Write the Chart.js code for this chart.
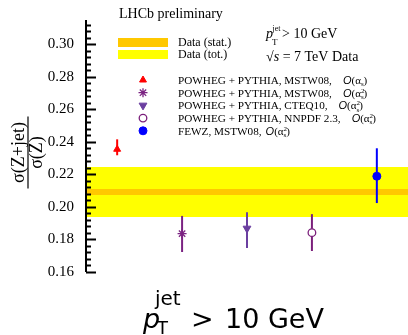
<!DOCTYPE html>
<html>
<head>
<meta charset="utf-8">
<script src="https://cdn.jsdelivr.net/npm/chart.js@4.4.0/dist/chart.umd.min.js"></script>
<style>
html, body { margin: 0; padding: 0; background: #fff; }
#wrap { width: 408px; height: 335px; }
</style>
</head>
<body>
<div id="wrap"><canvas id="chart" width="408" height="335"></canvas></div>
<script>
// y axis labels
const yTicks = [0.16, 0.18, 0.20, 0.22, 0.24, 0.26, 0.28, 0.30];

// measured ratio bands: [low, high]
const dataStat = [0.2074, 0.2110];
const dataTot = [0.1938, 0.2246];

// theory predictions
const theoryNames = [
    "POWHEG + PYTHIA, MSTW08,",
    "POWHEG + PYTHIA, MSTW08,",
    "POWHEG + PYTHIA, CTEQ10,",
    "POWHEG + PYTHIA, NNPDF 2.3,",
    "FEWZ, MSTW08,"
];
const theoryOrder = [1, 2, 2, 2, 2];
const theoryValues = [0.2355, 0.1836, 0.1868, 0.1842, 0.2189];
const theoryLow = [0.2318, 0.1723, 0.1747, 0.1729, 0.2024];
const theoryHigh = [0.2416, 0.1945, 0.1968, 0.1956, 0.2361];
const theoryColors = ["#ff0000", "#7b2382", "#6b3fa0", "#7b1f7b", "#0000ff"];

const serif = '"Liberation Serif", "Times New Roman", serif';
const xMin = -0.48, xMax = 4.48;

function bandLine(value, fill, color, order) {
    return {
        type: "line",
        data: [{x: xMin, y: value}, {x: xMax, y: value}],
        borderWidth: 0,
        pointRadius: 0,
        fill: fill,
        backgroundColor: color,
        order: order,
    };
}

const markerStyles = [
    {pointStyle: "triangle", radius: 4, rotation: 0, bg: theoryColors[0], borderWidth: 1},
    {pointStyle: "star", radius: 4.5, rotation: 0, bg: theoryColors[1], borderWidth: 1.3},
    {pointStyle: "triangle", radius: 4.5, rotation: 180, bg: theoryColors[2], borderWidth: 1},
    {pointStyle: "circle", radius: 3.8, rotation: 0, bg: "#ffffff", borderWidth: 1.3},
    {pointStyle: "circle", radius: 4, rotation: 0, bg: theoryColors[4], borderWidth: 1},
];

const theorySets = theoryValues.map((value, i) => ({
    type: "scatter",
    data: [{x: i, y: value}],
    pointStyle: markerStyles[i].pointStyle,
    pointRadius: markerStyles[i].radius,
    pointRotation: markerStyles[i].rotation,
    backgroundColor: markerStyles[i].bg,
    borderColor: theoryColors[i],
    borderWidth: markerStyles[i].borderWidth,
    errLow: theoryLow[i],
    errHigh: theoryHigh[i],
    order: 0,
}));

const errorBars = {
    id: "errorBars",
    beforeDatasetDraw(chart, args) {
        const ds = chart.data.datasets[args.index];
        if (ds.errLow === undefined) return;
        const y = chart.scales.y;
        const pt = args.meta.data[0];
        const {ctx} = chart;
        ctx.save();
        ctx.strokeStyle = ds.borderColor;
        ctx.lineWidth = 2;
        ctx.beginPath();
        ctx.moveTo(pt.x, y.getPixelForValue(ds.errLow));
        ctx.lineTo(pt.x, y.getPixelForValue(ds.errHigh));
        ctx.stroke();
        ctx.restore();
    }
};

// inward ticks + axis line, drawn on top of the bands
const axisTicks = {
    id: "axisTicks",
    afterDatasetsDraw(chart) {
        const {ctx, chartArea} = chart;
        const y = chart.scales.y;
        ctx.save();
        ctx.strokeStyle = "#000";
        ctx.lineWidth = 2;
        ctx.beginPath();
        ctx.moveTo(chartArea.left, chartArea.top);
        ctx.lineTo(chartArea.left, chartArea.bottom);
        for (let k = 0; y.min + k * 0.004 <= y.max + 1e-9; k++) {
            const py = Math.round(y.getPixelForValue(y.min + k * 0.004)) + 0.5;
            const len = k % 5 === 0 ? 10 : 5;
            ctx.moveTo(chartArea.left, py);
            ctx.lineTo(chartArea.left + len, py);
        }
        ctx.stroke();
        ctx.restore();
    }
};

// draws a row of text pieces, returns end x
function drawParts(ctx, x, y, parts) {
    parts.forEach(p => {
        ctx.font = p.font;
        ctx.fillText(p.t, x, y + (p.dy || 0));
        if (!p.stay) x += ctx.measureText(p.t).width;
    });
    return x;
}

function orderParts(n) {
    const parts = [
        {t: "O", font: 'italic 11px "Liberation Sans", sans-serif'},
        {t: "(\u03b1", font: "11px " + serif},
    ];
    if (n === 2) parts.push({t: "2", font: "7px " + serif, dy: -4, stay: true});
    parts.push({t: "s", font: "7px " + serif, dy: 2.5});
    parts.push({t: ")", font: "11px " + serif});
    return parts;
}

const annotations = {
    id: "annotations",
    afterDraw(chart) {
        const {ctx} = chart;
        ctx.save();
        ctx.fillStyle = "#000";
        ctx.textBaseline = "alphabetic";
        ctx.textAlign = "left";

        ctx.font = "14px " + serif;
        ctx.fillText("LHCb preliminary", 119, 18);

        // band legend
        ctx.fillStyle = "#ffc800";
        ctx.fillRect(118, 38, 50, 9);
        ctx.fillStyle = "#ffff00";
        ctx.fillRect(118, 50, 50, 9);
        ctx.fillStyle = "#000";
        ctx.font = "12px " + serif;
        ctx.fillText("Data (stat.)", 178, 46);
        ctx.fillText("Data (tot.)", 178, 58);

        // cut and energy
        drawParts(ctx, 266, 37.5, [{t: "p", font: "italic 14px " + serif}]);
        drawParts(ctx, 272.5, 30.5, [{t: "jet", font: "8px " + serif}]);
        drawParts(ctx, 272, 45, [{t: "T", font: "9px " + serif}]);
        drawParts(ctx, 282, 37.5, [{t: "> 10 GeV", font: "14px " + serif}]);
        drawParts(ctx, 266, 61, [
            {t: "\u221a", font: "14px " + serif},
            {t: "s", font: "italic 14px " + serif},
            {t: " = 7 TeV Data", font: "14px " + serif},
        ]);

        // theory legend
        const h = Chart.helpers;
        theoryNames.forEach((name, i) => {
            const my = 80 + i * 12.7;
            const ds = chart.data.datasets[4 + i];
            ctx.fillStyle = ds.backgroundColor;
            ctx.strokeStyle = ds.borderColor;
            ctx.lineWidth = ds.borderWidth;
            if (h && h.drawPoint) {
                h.drawPoint(ctx, {
                    pointStyle: ds.pointStyle,
                    radius: ds.pointRadius,
                    rotation: ds.pointRotation,
                    borderWidth: ds.borderWidth,
                }, 143, my);
            }
            ctx.fillStyle = "#000";
            ctx.font = "11.2px " + serif;
            ctx.fillText(name, 178, my + 3.8);
            const gap = i === 4 ? 4 : 11;
            drawParts(ctx, 178 + ctx.measureText(name).width + gap, my + 3.8, orderParts(theoryOrder[i]));
        });

        // y title as a fraction
        ctx.save();
        ctx.translate(28, 152.5);
        ctx.rotate(-Math.PI / 2);
        ctx.textAlign = "center";
        ctx.fillStyle = "#000";
        ctx.strokeStyle = "#000";
        ctx.font = "18px " + serif;
        ctx.fillText("\u03c3(Z+jet)", 0, -4);
        ctx.fillText("\u03c3(Z)", 0, 14);
        ctx.lineWidth = 1.2;
        ctx.beginPath();
        ctx.moveTo(-36, 0);
        ctx.lineTo(36, 0);
        ctx.stroke();
        ctx.restore();

        // x title
        ctx.textAlign = "left";
        ctx.fillStyle = "#000";
        ctx.font = 'italic 27px "DejaVu Sans", sans-serif';
        ctx.fillText("p", 143, 328);
        ctx.font = '20px "DejaVu Sans", sans-serif';
        ctx.fillText("jet", 155, 305);
        ctx.font = '18px "DejaVu Sans", sans-serif';
        ctx.fillText("T", 157, 334);
        ctx.font = '27px "DejaVu Sans", sans-serif';
        ctx.fillText(">", 191, 328);
        ctx.fillText("10 GeV", 225, 328);
        ctx.restore();
    }
};

new Chart(document.getElementById("chart"), {
    type: "scatter",
    data: {
        datasets: [
            bandLine(dataTot[1], "+1", "#ffff00", 20),
            bandLine(dataTot[0], false, "#ffff00", 20),
            bandLine(dataStat[1], "+1", "#ffc800", 10),
            bandLine(dataStat[0], false, "#ffc800", 10),
            ...theorySets,
        ]
    },
    options: {
        responsive: false,
        animation: false,
        devicePixelRatio: 1,
        layout: {autoPadding: false, padding: {top: 20, bottom: 63, left: 0, right: 0}},
        scales: {
            x: {
                type: "linear",
                display: false,
                min: xMin,
                max: xMax,
            },
            y: {
                type: "linear",
                min: 0.16,
                max: 0.315,
                afterBuildTicks: scale => {
                    scale.ticks = yTicks.map(v => ({value: v}));
                },
                afterFit: scale => {
                    scale.width = 86;
                },
                grid: {display: false},
                border: {display: false},
                ticks: {
                    padding: 4,
                    color: "#000",
                    font: {family: serif, size: 15},
                    callback: v => v.toFixed(2),
                },
            },
        },
        plugins: {
            legend: {display: false},
            tooltip: {enabled: false},
        },
    },
    plugins: [errorBars, axisTicks, annotations],
});
</script>
</body>
</html>
